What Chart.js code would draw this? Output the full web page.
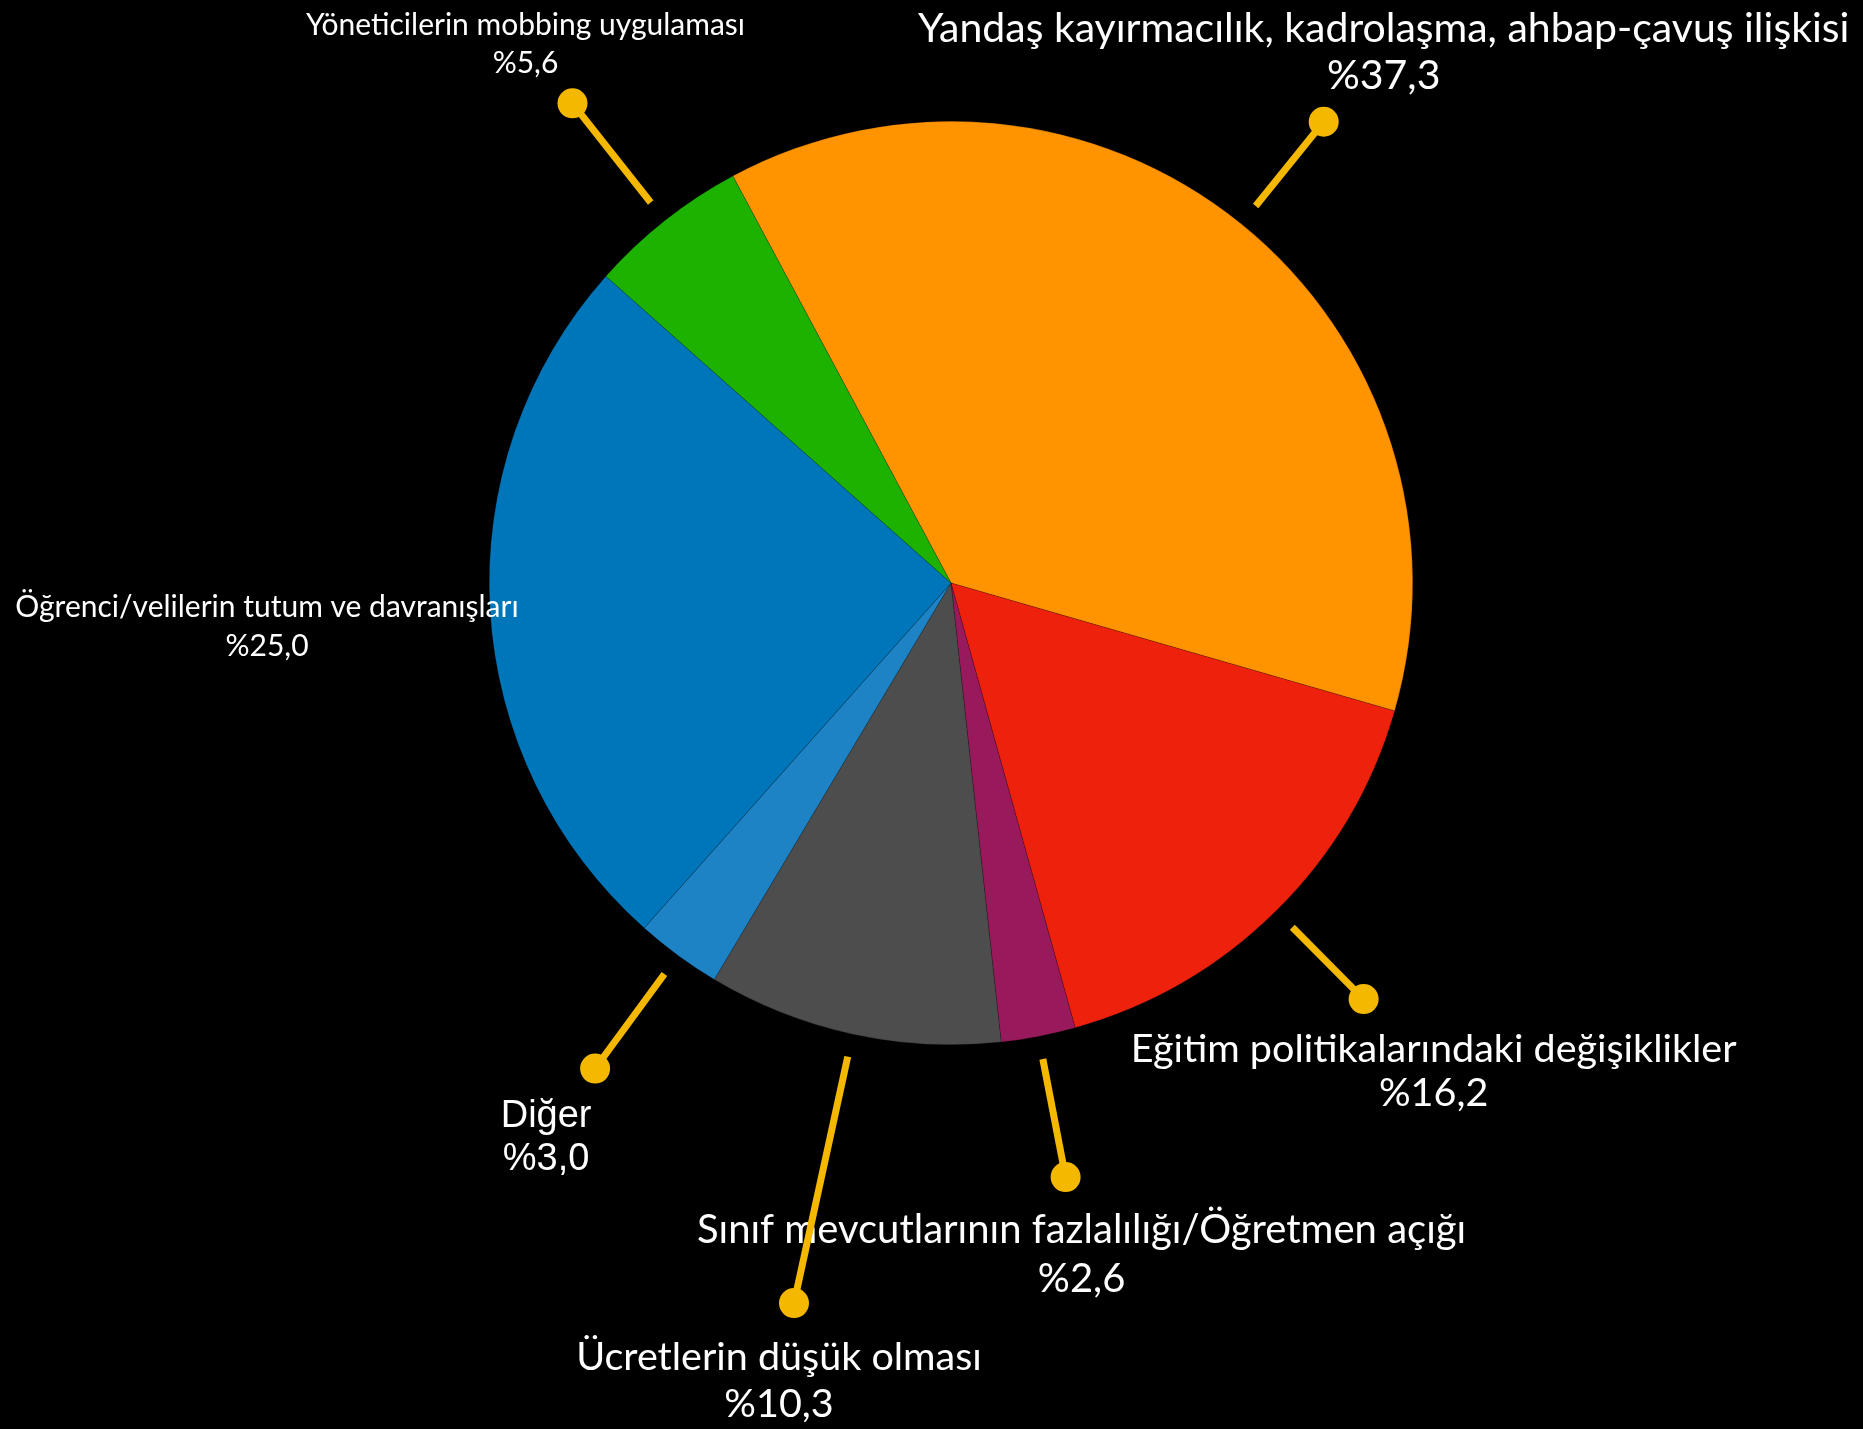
<!DOCTYPE html>
<html>
<head>
<meta charset="utf-8">
<script src="https://cdn.jsdelivr.net/npm/chart.js@4.4.1/dist/chart.umd.min.js"></script>
<style>
  html, body { margin: 0; padding: 0; background: #000; }
  #wrap { width: 1863px; height: 1429px; position: relative; }
</style>
</head>
<body>
<div id="wrap"><canvas id="myChart"></canvas></div>
<script>
// data
const categories = [
    'Yandaş kayırmacılık, kadrolaşma, ahbap-çavuş ilişkisi',
    'Eğitim politikalarındaki değişiklikler',
    'Sınıf mevcutlarının fazlalılığı/Öğretmen açığı',
    'Ücretlerin düşük olması',
    'Diğer',
    'Öğrenci/velilerin tutum ve davranışları',
    'Yöneticilerin mobbing uygulaması'
];
const values = [37.3, 16.2, 2.6, 10.3, 3.0, 25.0, 5.6];
const sliceColors = ['#FF9300', '#EE220C', '#991A5C', '#4D4D4D', '#1E83C4', '#0076BA', '#1DB100'];

// label layout: dot = radius of the yellow dot from centre (null = no leader line)
// dx/dy = text offset from the dot (or from pie centre when no dot)
const labelLayout = [
    { dot: 593, dx: 60,  dy: -80, gap: 47, size: 41,   font: 'Lato' },
    { dot: 586, dx: 70,  dy: 63,  gap: 44, size: 39.5, font: 'Lato' },
    { dot: 605, dx: 16,  dy: 66,  gap: 49, size: 40,   font: 'Lato' },
    { dot: 737, dx: -15, dy: 67,  gap: 47, size: 39.5, font: 'Lato' },
    { dot: 602, dx: -49, dy: 58,  gap: 43, size: 38,   font: 'Liberation Sans' },
    { dot: null, dx: -684, dy: 34, gap: 39, size: 30,  font: 'Lato' },
    { dot: 611, dx: -47, dy: -68, gap: 38, size: 30,   font: 'Lato' }
];

const leaderColor = '#F5B800';

const calloutPlugin = {
    id: 'callouts',
    afterDatasetsDraw(chart) {
        const ctx = chart.ctx;
        const arcs = chart.getDatasetMeta(0).data;
        ctx.save();
        arcs.forEach((arc, i) => {
            const lay = labelLayout[i];
            const mid = (arc.startAngle + arc.endAngle) / 2;
            const cos = Math.cos(mid), sin = Math.sin(mid);
            let ax = arc.x, ay = arc.y;
            if (lay.dot) {
                const r0 = arc.outerRadius + 23;
                const x0 = arc.x + cos * r0, y0 = arc.y + sin * r0;
                const x1 = arc.x + cos * lay.dot, y1 = arc.y + sin * lay.dot;
                ctx.strokeStyle = leaderColor;
                ctx.lineWidth = 7;
                ctx.beginPath();
                ctx.moveTo(x0, y0);
                ctx.lineTo(x1, y1);
                ctx.stroke();
                ctx.fillStyle = leaderColor;
                ctx.beginPath();
                ctx.arc(x1, y1, 15, 0, Math.PI * 2);
                ctx.fill();
                ax = x1; ay = y1;
            }
            ctx.fillStyle = '#fff';
            ctx.textAlign = 'center';
            ctx.textBaseline = 'alphabetic';
            ctx.font = lay.size + 'px "' + lay.font + '"';
            const pct = '%' + values[i].toFixed(1).replace('.', ',');
            ctx.fillText(categories[i], ax + lay.dx, ay + lay.dy);
            ctx.fillText(pct, ax + lay.dx, ay + lay.dy + lay.gap);
        });
        ctx.restore();
    }
};

let myChart = document.getElementById('myChart').getContext('2d');

let pieChart = new Chart(myChart, {
    type: 'pie',
    data: {
        labels: categories,
        datasets: [{
            data: values,
            backgroundColor: sliceColors,
            borderWidth: 0.5,
            borderColor: 'rgba(0,0,0,0.35)'
        }]
    },
    options: {
        responsive: true,
        maintainAspectRatio: false,
        animation: false,
        rotation: -28.2,
        layout: {
            padding: { top: 121, bottom: 384, left: 489, right: 450 }
        },
        plugins: {
            legend: { display: false },
            tooltip: { enabled: false },
            title: { display: false }
        }
    },
    plugins: [calloutPlugin]
});
</script>
</body>
</html>
